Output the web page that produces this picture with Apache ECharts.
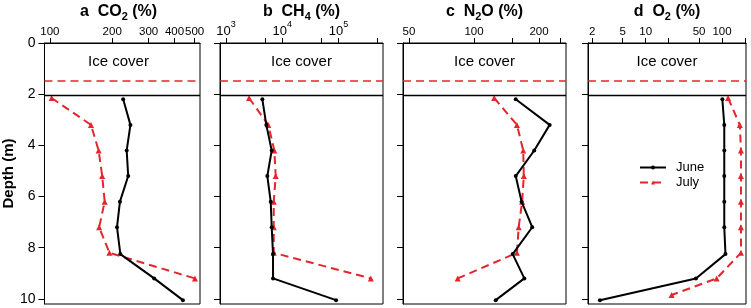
<!DOCTYPE html>
<html><head><meta charset="utf-8">
<script src="https://cdn.jsdelivr.net/npm/echarts@6/dist/echarts.min.js"></script>
<style>html,body{margin:0;padding:0;background:#fff}#c{width:751px;height:308px}</style>
</head><body><div id="c"></div><script>
// ---- data ----
var depthJune   = [2.2, 3.2, 4.2, 5.2, 6.2, 7.2, 8.25, 9.2, 10.05];
var depthJuly   = [2.15, 3.2, 4.2, 5.2, 6.2, 7.2, 8.2, 9.2];
var depthJulyO2 = [2.15, 3.2, 4.2, 5.2, 6.2, 7.2, 8.2, 9.2, 9.85];

var co2June = [226, 245, 235, 239, 218, 211, 219, 319, 439];
var co2July = [102, 158, 172, 179, 184, 173, 194, 502];
var ch4June = [4430, 5210, 6500, 5430, 6240, 6500, 6860, 6860, 90600];
var ch4July = [2570, 5660, 7230, 7660, 7060, 7060, 7060, 376000];
var n2oJune = [156, 224, 190, 156, 166, 186, 151, 171, 126];
var n2oJuly = [124, 158, 169, 170, 167, 161, 158, 84];
var o2June  = [101, 107, 107, 107, 107, 107, 111, 45.5, 2.52];
var o2July  = [120, 171, 177, 177, 177, 177, 177, 85, 21.9];

var iceJune = 2.04, iceJuly = 1.46;

var co2Ticks = [100, 200, 300, 400, 500], co2Labels = [100, 200, 300, 400, 500];
var ch4Ticks = [1e3, 5e3, 1e4, 5e4, 1e5, 5e5], ch4Labels = [1e3, 1e4, 1e5];
var n2oTicks = [50, 100, 150, 200, 250], n2oLabels = [50, 100, 200];
var o2Ticks  = [2, 5, 10, 20, 50, 100, 200], o2Labels = [2, 5, 10, 50, 100];
var depthTicks = [0, 2, 4, 6, 8, 10];

var titles = [['a  CO', '2'], ['b  CH', '4'], ['c  N', '2', 'O'], ['d  O', '2']];

// ---- layout ----
var FONT = 'Liberation Sans, Arial, Helvetica, sans-serif';
var RED = '#e3262c';
var panels = [
  {left: 37,  width: 163, min: 94.2, max: 531,   ticks: co2Ticks, labels: co2Labels, june: co2June, july: co2July, jd: depthJuly, sup: false},
  {left: 220, width: 163, min: 782,  max: 6.2e5, ticks: ch4Ticks, labels: ch4Labels, june: ch4June, july: ch4July, jd: depthJuly, sup: true},
  {left: 403, width: 163, min: 46.9, max: 266.6, ticks: n2oTicks, labels: n2oLabels, june: n2oJune, july: n2oJuly, jd: depthJuly, sup: false},
  {left: 588, width: 158, min: 1.76, max: 206,   ticks: o2Ticks,  labels: o2Labels,  june: o2June,  july: o2July,  jd: depthJulyO2, sup: false}
];
var L = Math.log10;
var grids = [], xAxes = [], yAxes = [], series = [], graphics = [];
panels.forEach(function (p, i) {
  grids.push({left: p.left, width: p.width, top: 43, height: 261, show: true, borderColor: '#000', borderWidth: 1, containLabel: false});
  xAxes.push({
    type: 'value', gridIndex: i, position: 'top', min: L(p.min), max: L(p.max),
    axisLine: {show: true, lineStyle: {color: '#000', width: 1}},
    axisTick: {show: true, inside: false, length: 5, customValues: p.ticks.map(L), lineStyle: {color: '#000', width: 1}},
    axisLabel: {
      show: true, customValues: p.labels.map(L), margin: 5, color: '#000', fontFamily: FONT, fontSize: 11.5,
      formatter: p.sup ? function (v) { return '{b|10}{s|' + Math.round(v) + '}'; }
                       : function (v) { return String(Math.round(Math.pow(10, v))); },
      rich: {b: {fontSize: 13, lineHeight: 18, verticalAlign: 'bottom', fontFamily: FONT, color: '#000'},
             s: {fontSize: 9, lineHeight: 18, verticalAlign: 'top', fontFamily: FONT, color: '#000'}}
    },
    splitLine: {show: false}
  });
  yAxes.push({
    type: 'value', gridIndex: i, inverse: true, min: 0, max: 10.2,
    axisLine: {show: true, lineStyle: {color: '#000', width: 1}},
    axisTick: {show: true, inside: false, length: 6, customValues: depthTicks, lineStyle: {color: '#000'}},
    axisLabel: {show: i === 0, customValues: depthTicks, margin: 9, color: '#000', fontFamily: FONT, fontSize: 14},
    splitLine: {show: false},
    name: i === 0 ? 'Depth (m)' : '', nameLocation: 'middle', nameRotate: 90, nameGap: 16,
    nameTextStyle: {fontFamily: FONT, fontSize: 15, fontWeight: 'bold', color: '#000'}
  });
  series.push({
    name: 'June', type: 'line', xAxisIndex: i, yAxisIndex: i,
    data: p.june.map(function (v, k) { return [L(v), depthJune[k]]; }),
    symbol: 'circle', symbolSize: 4, color: '#000',
    lineStyle: {color: '#000', width: 2}, itemStyle: {color: '#000'},
    z: 3, silent: true, animation: false,
    markLine: {silent: true, symbol: 'none', label: {show: false}, animation: false,
      lineStyle: {color: '#000', type: 'solid', width: 1.3}, data: [{yAxis: iceJune}]}
  });
  series.push({
    name: 'July', type: 'line', xAxisIndex: i, yAxisIndex: i,
    data: p.july.map(function (v, k) { return [L(v), p.jd[k]]; }),
    symbol: 'triangle', symbolSize: 6, color: RED,
    lineStyle: {color: RED, width: 2, type: [8, 5]}, itemStyle: {color: RED},
    z: 2, silent: true, animation: false,
    markLine: {silent: true, symbol: 'none', label: {show: false}, animation: false,
      lineStyle: {color: RED, type: [8, 5], width: 1.5}, data: [{yAxis: iceJuly}]}
  });
  var cx = p.left + p.width / 2;
  var t = titles[i];
  var txt = '{t|' + t[0] + '}{s|' + t[1] + '}' + (t[2] ? '{t|' + t[2] + '}' : '') + '{t| (%)}';
  graphics.push({type: 'text', x: cx, y: 12, style: {text: txt, align: 'center', verticalAlign: 'middle',
    rich: {t: {fontFamily: FONT, fontSize: 16, fontWeight: 'bold', lineHeight: 20, verticalAlign: 'middle', fill: '#000'},
           s: {fontFamily: FONT, fontSize: 11, fontWeight: 'bold', lineHeight: 20, verticalAlign: 'bottom', fill: '#000'}}}});
  graphics.push({type: 'text', x: cx, y: 62, style: {text: 'Ice cover', align: 'center', verticalAlign: 'middle',
    fontFamily: FONT, fontSize: 15, fill: '#000'}});
});

var chart = echarts.init(document.getElementById('c'), null, {renderer: 'canvas'});
chart.setOption({
  animation: false,
  backgroundColor: '#fff',
  grid: grids, xAxis: xAxes, yAxis: yAxes, series: series,
  legend: {data: ['June', 'July'], left: 634, top: 156, orient: 'vertical', itemWidth: 26, itemHeight: 5, itemGap: 2,
    textStyle: {fontFamily: FONT, fontSize: 13, color: '#000', padding: [0, 0, 0, 5]}, selectedMode: false},
  graphic: graphics
});
</script></body></html>
